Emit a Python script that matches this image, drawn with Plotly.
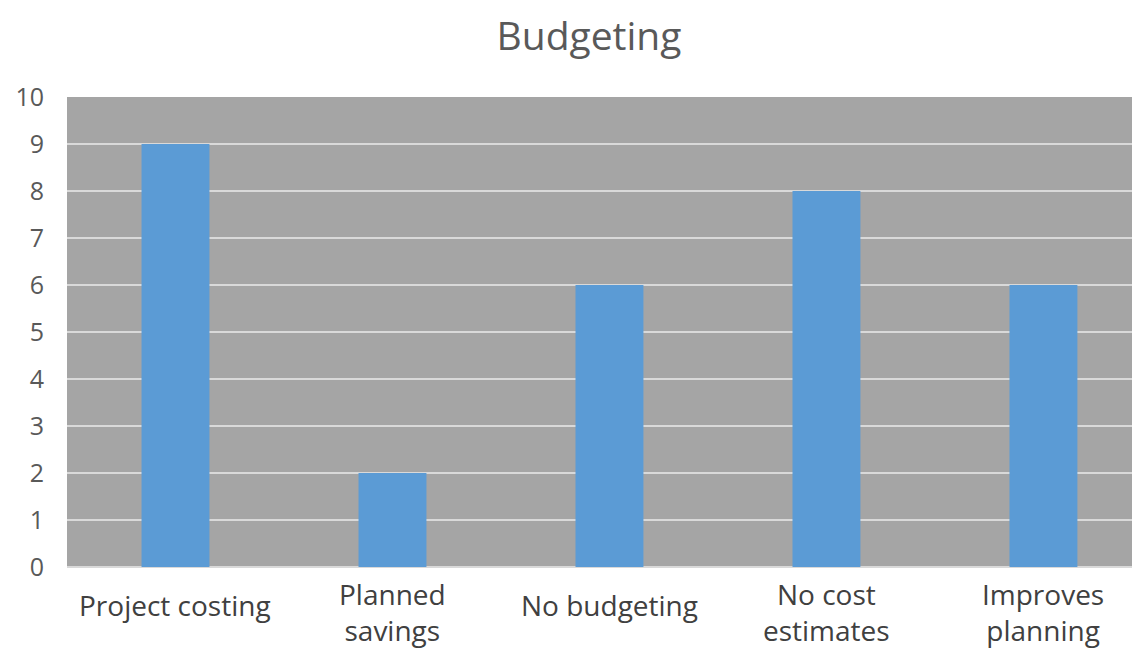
import plotly.graph_objects as go

categories = ["Project costing", "Planned<br>savings", "No budgeting", "No cost<br>estimates", "Improves<br>planning"]
values = [9, 2, 6, 8, 6]
y_ticks = list(range(0, 11))

FONT = "Open Sans"
x_pos = list(range(len(categories)))

fig = go.Figure()
fig.add_trace(go.Bar(x=x_pos, y=values, marker=dict(color="#5B9BD5", line=dict(width=0))))

for xi, label in zip(x_pos, categories):
    two_line = "<br>" in label
    fig.add_annotation(
        x=xi, y=0, xref="x", yref="y", text=label, showarrow=False,
        xanchor="center", yanchor="middle", yshift=-45 if two_line else -38,
        font=dict(family=FONT, size=28, color="#404040"),
    )

fig.update_layout(
    width=1132, height=642,
    margin=dict(l=59, r=0, t=89, b=83),
    paper_bgcolor="white",
    plot_bgcolor="#A5A5A5",
    bargap=0.687,
    showlegend=False,
    title=dict(text="Budgeting", xref="container", x=581/1132, xanchor="center",
               yref="container", y=1 - 28/642, yanchor="middle",
               font=dict(family=FONT, size=39, color="#595959")),
    font=dict(family=FONT),
)
fig.update_xaxes(
    range=[-0.5, 4.445], showgrid=False, zeroline=False, showline=False,
    showticklabels=False, ticks="",
)
fig.update_yaxes(
    range=[0, 10], tickvals=y_ticks, showgrid=True, gridcolor="#D9D9D9", gridwidth=2,
    zeroline=True, zerolinecolor="#D9D9D9", zerolinewidth=2,
    tickfont=dict(family=FONT, size=25, color="#595959"), ticks="", ticklabelstandoff=22,
)
fig.write_html("out.html")
